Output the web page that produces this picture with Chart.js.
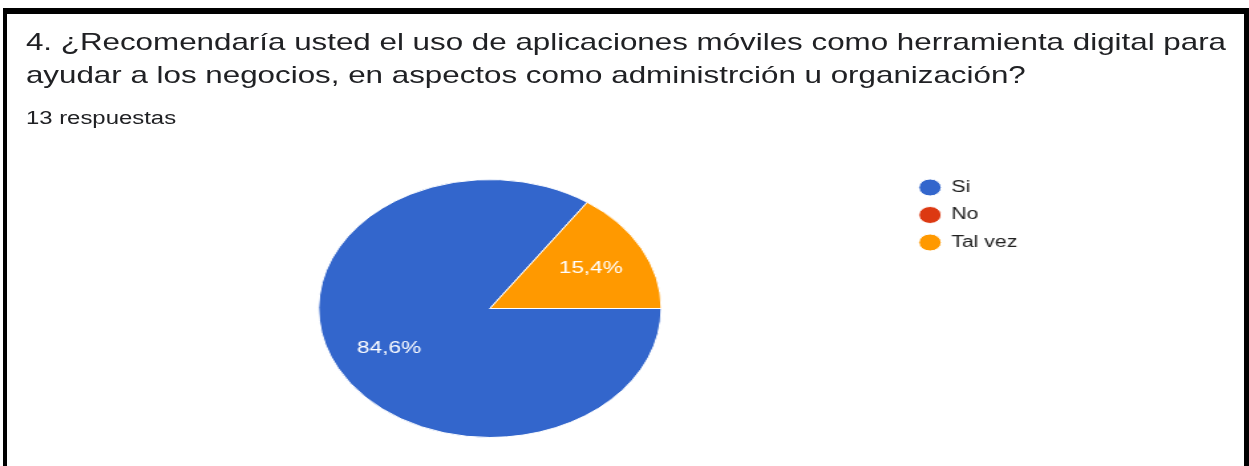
<!DOCTYPE html>
<html lang="es">
<head>
<meta charset="utf-8">
<script src="https://cdn.jsdelivr.net/npm/chart.js@4.4.1/dist/chart.umd.min.js"></script>
<style>
    html, body { margin: 0; padding: 0; background: #fff; }
    body { width: 1249px; height: 466px; overflow: hidden; position: relative; }
    #frame {
        position: absolute; left: 3px; top: 8px; width: 1246px; height: 520px;
        box-sizing: border-box; border: solid #000; border-width: 6px 5px 0 4px;
    }
    /* the reference is stretched sideways, so the whole card is drawn narrow and widened */
    #stage {
        position: absolute; left: 0; top: 0; width: 940px; height: 466px;
        transform: scaleX(1.3282); transform-origin: 0 0;
    }
    .title {
        position: absolute; left: 19.5px; top: 26.4px; white-space: nowrap;
        font-family: "Liberation Sans", Arial, sans-serif; font-size: 23.6px; line-height: 33px; color: #202124;
    }
    .sub {
        position: absolute; left: 19.5px; top: 107.9px; white-space: nowrap;
        font-family: "Liberation Sans", Arial, sans-serif; font-size: 18px; line-height: 20px; color: #202124;
    }
    #chartBox { position: absolute; left: 57px; top: 168px; width: 719px; height: 281px; }
</style>
</head>
<body>
<div id="frame"></div>
<div id="stage">
    <div class="title">4. ¿Recomendaría usted el uso de aplicaciones móviles como herramienta digital para<br>ayudar a los negocios, en aspectos como administrción u organización?</div>
    <div class="sub">13 respuestas</div>
    <div id="chartBox"><canvas id="pieChart"></canvas></div>
</div>
<script>
// Answers and counts
const opciones = ['Si', 'No', 'Tal vez'];
const respuestas = [11, 0, 2];
const colores = ['#3366cc', '#dc3912', '#ff9900'];

const total = respuestas.reduce((a, b) => a + b, 0);

// Percentages written inside the slices, Spanish decimal comma
const percentLabels = {
    id: 'percentLabels',
    afterDatasetsDraw(chart) {
        const ctx = chart.ctx;
        const meta = chart.getDatasetMeta(0);
        ctx.save();
        ctx.font = '17px "Liberation Sans", Arial, sans-serif';
        ctx.fillStyle = '#ffffff';
        ctx.textAlign = 'center';
        ctx.textBaseline = 'middle';
        meta.data.forEach((arc, i) => {
            if (!respuestas[i]) return;
            const p = arc.getProps(['x', 'y', 'startAngle', 'endAngle', 'outerRadius'], true);
            const mid = (p.startAngle + p.endAngle) / 2;
            const r = p.outerRadius * 0.665;
            const txt = (respuestas[i] / total * 100).toFixed(1).replace('.', ',') + '%';
            ctx.fillText(txt, p.x + Math.cos(mid) * r, p.y + Math.sin(mid) * r);
        });
        ctx.restore();
    }
};

new Chart(document.getElementById('pieChart'), {
    type: 'pie',
    data: {
        labels: opciones,
        datasets: [{
            data: respuestas,
            backgroundColor: colores,
            borderColor: '#ffffff',
            borderWidth: 1
        }]
    },
    options: {
        responsive: true,
        maintainAspectRatio: false,
        animation: false,
        rotation: 90,
        radius: 129,
        layout: { padding: 0 },
        plugins: {
            tooltip: { enabled: false },
            legend: {
                position: 'right',
                align: 'start',
                labels: {
                    usePointStyle: true,
                    pointStyle: 'circle',
                    boxWidth: 16,
                    boxHeight: 12,
                    padding: 11.5,
                    color: '#222222',
                    font: { family: '"Liberation Sans", Arial, sans-serif', size: 16 }
                }
            }
        }
    },
    plugins: [percentLabels]
});
</script>
</body>
</html>
